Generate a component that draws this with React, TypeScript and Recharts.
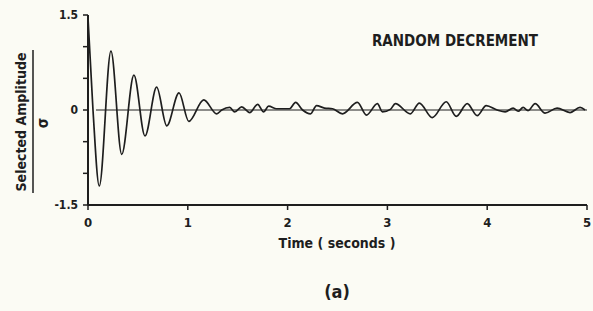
import { LineChart, Line, XAxis, YAxis, ReferenceLine } from 'recharts';

// time in seconds, amplitude normalised by sigma
const times = [
  0, 0.05, 0.113, 0.23, 0.338, 0.46, 0.571, 0.688, 0.789, 0.912, 1.01, 1.16, 1.29, 1.34, 1.42,
  1.47, 1.54, 1.62, 1.7, 1.76, 1.81, 1.89, 2.02, 2.08, 2.15, 2.23, 2.29, 2.37, 2.45, 2.55,
  2.7, 2.79, 2.9, 2.95, 3.03, 3.08, 3.23, 3.32, 3.45, 3.59, 3.69, 3.8, 3.9, 3.99, 4.1,
  4.18, 4.26, 4.31, 4.36, 4.41, 4.48, 4.58, 4.7, 4.83, 4.93, 4.98,
];
const amplitudes = [
  1.45, 0.0, -1.2, 0.93, -0.7, 0.55, -0.41, 0.36, -0.25, 0.27, -0.18, 0.16, -0.06, 0.0, 0.04,
  -0.03, 0.05, -0.04, 0.09, -0.03, 0.06, 0.02, 0.02, 0.12, 0.0, -0.06, 0.07, 0.03, 0.02, -0.06,
  0.12, -0.08, 0.1, -0.03, 0.01, 0.1, -0.06, 0.11, -0.12, 0.13, -0.1, 0.1, -0.09, 0.07, 0.0,
  -0.03, 0.03, -0.02, 0.04, -0.01, 0.1, -0.05, 0.03, -0.04, 0.04, 0.0,
];
const xTicks = [0, 1, 2, 3, 4, 5];
const yTicks = [-1.5, -1, -0.5, 0, 0.5, 1, 1.5];
const yLabelled = [-1.5, 0, 1.5];

const data = times.map((t, i) => ({ t, v: amplitudes[i] }));

const ink = '#1e1e1e';
const font = '"Liberation Sans Narrow", "DejaVu Sans Condensed", sans-serif';

export default function App() {
  return (
    <div style={{ position: 'absolute', left: 0, top: 0, width: 593, height: 311, background: '#fbfbf4' }}>
      <LineChart width={593} height={311} data={data} margin={{ top: 15, right: 6, bottom: 76, left: 0 }}>
        <XAxis
          dataKey="t"
          type="number"
          domain={[0, 5]}
          ticks={xTicks}
          tickSize={5}
          axisLine={{ stroke: ink, strokeWidth: 2 }}
          tickLine={{ stroke: ink, strokeWidth: 1.5 }}
          tick={{ fill: ink, fontSize: 13, fontWeight: 700, fontFamily: font, dy: 6 }}
          height={30}
        />
        <YAxis
          type="number"
          domain={[-1.5, 1.5]}
          ticks={yTicks}
          tickSize={5}
          width={88}
          axisLine={{ stroke: ink, strokeWidth: 2 }}
          tickLine={{ stroke: ink, strokeWidth: 1.5 }}
          tick={{ fill: ink, fontSize: 12, fontWeight: 700, fontFamily: font, dx: -3 }}
          tickFormatter={(v: number) => (yLabelled.includes(v) ? String(v) : '')}
        />
        <ReferenceLine
          segment={[{ x: 0.08, y: 0 }, { x: 5, y: 0 }]}
          stroke={ink}
          strokeWidth={1}
        />
        <Line
          type="monotone"
          dataKey="v"
          stroke={ink}
          strokeWidth={1.7}
          dot={false}
          isAnimationActive={false}
        />
      </LineChart>
      <svg width={593} height={311} style={{ position: 'absolute', left: 0, top: 0, pointerEvents: 'none' }}>
        <text x={455} y={46} textAnchor="middle" fontFamily={font} fontWeight={700} fontSize={15} fill={ink}>
          RANDOM DECREMENT
        </text>
        <text x={337} y={248} textAnchor="middle" fontFamily={font} fontWeight={700} fontSize={14} fill={ink}>
          Time ( seconds )
        </text>
        <text x={337} y={298} textAnchor="middle" fontFamily={font} fontWeight={700} fontSize={18} fill={ink}>
          (a)
        </text>
        <g transform="translate(26, 122) rotate(-90)">
          <text x={0} y={0} textAnchor="middle" fontFamily={font} fontWeight={700} fontSize={14} fill={ink}>
            Selected Amplitude
          </text>
        </g>
        <line x1={33} y1={50} x2={33} y2={193} stroke={ink} strokeWidth={1.5} />
        <g transform="translate(48, 123) rotate(-90)">
          <text x={0} y={0} textAnchor="middle" fontFamily={font} fontWeight={700} fontSize={15} fill={ink}>
            σ
          </text>
        </g>
      </svg>
    </div>
  );
}
